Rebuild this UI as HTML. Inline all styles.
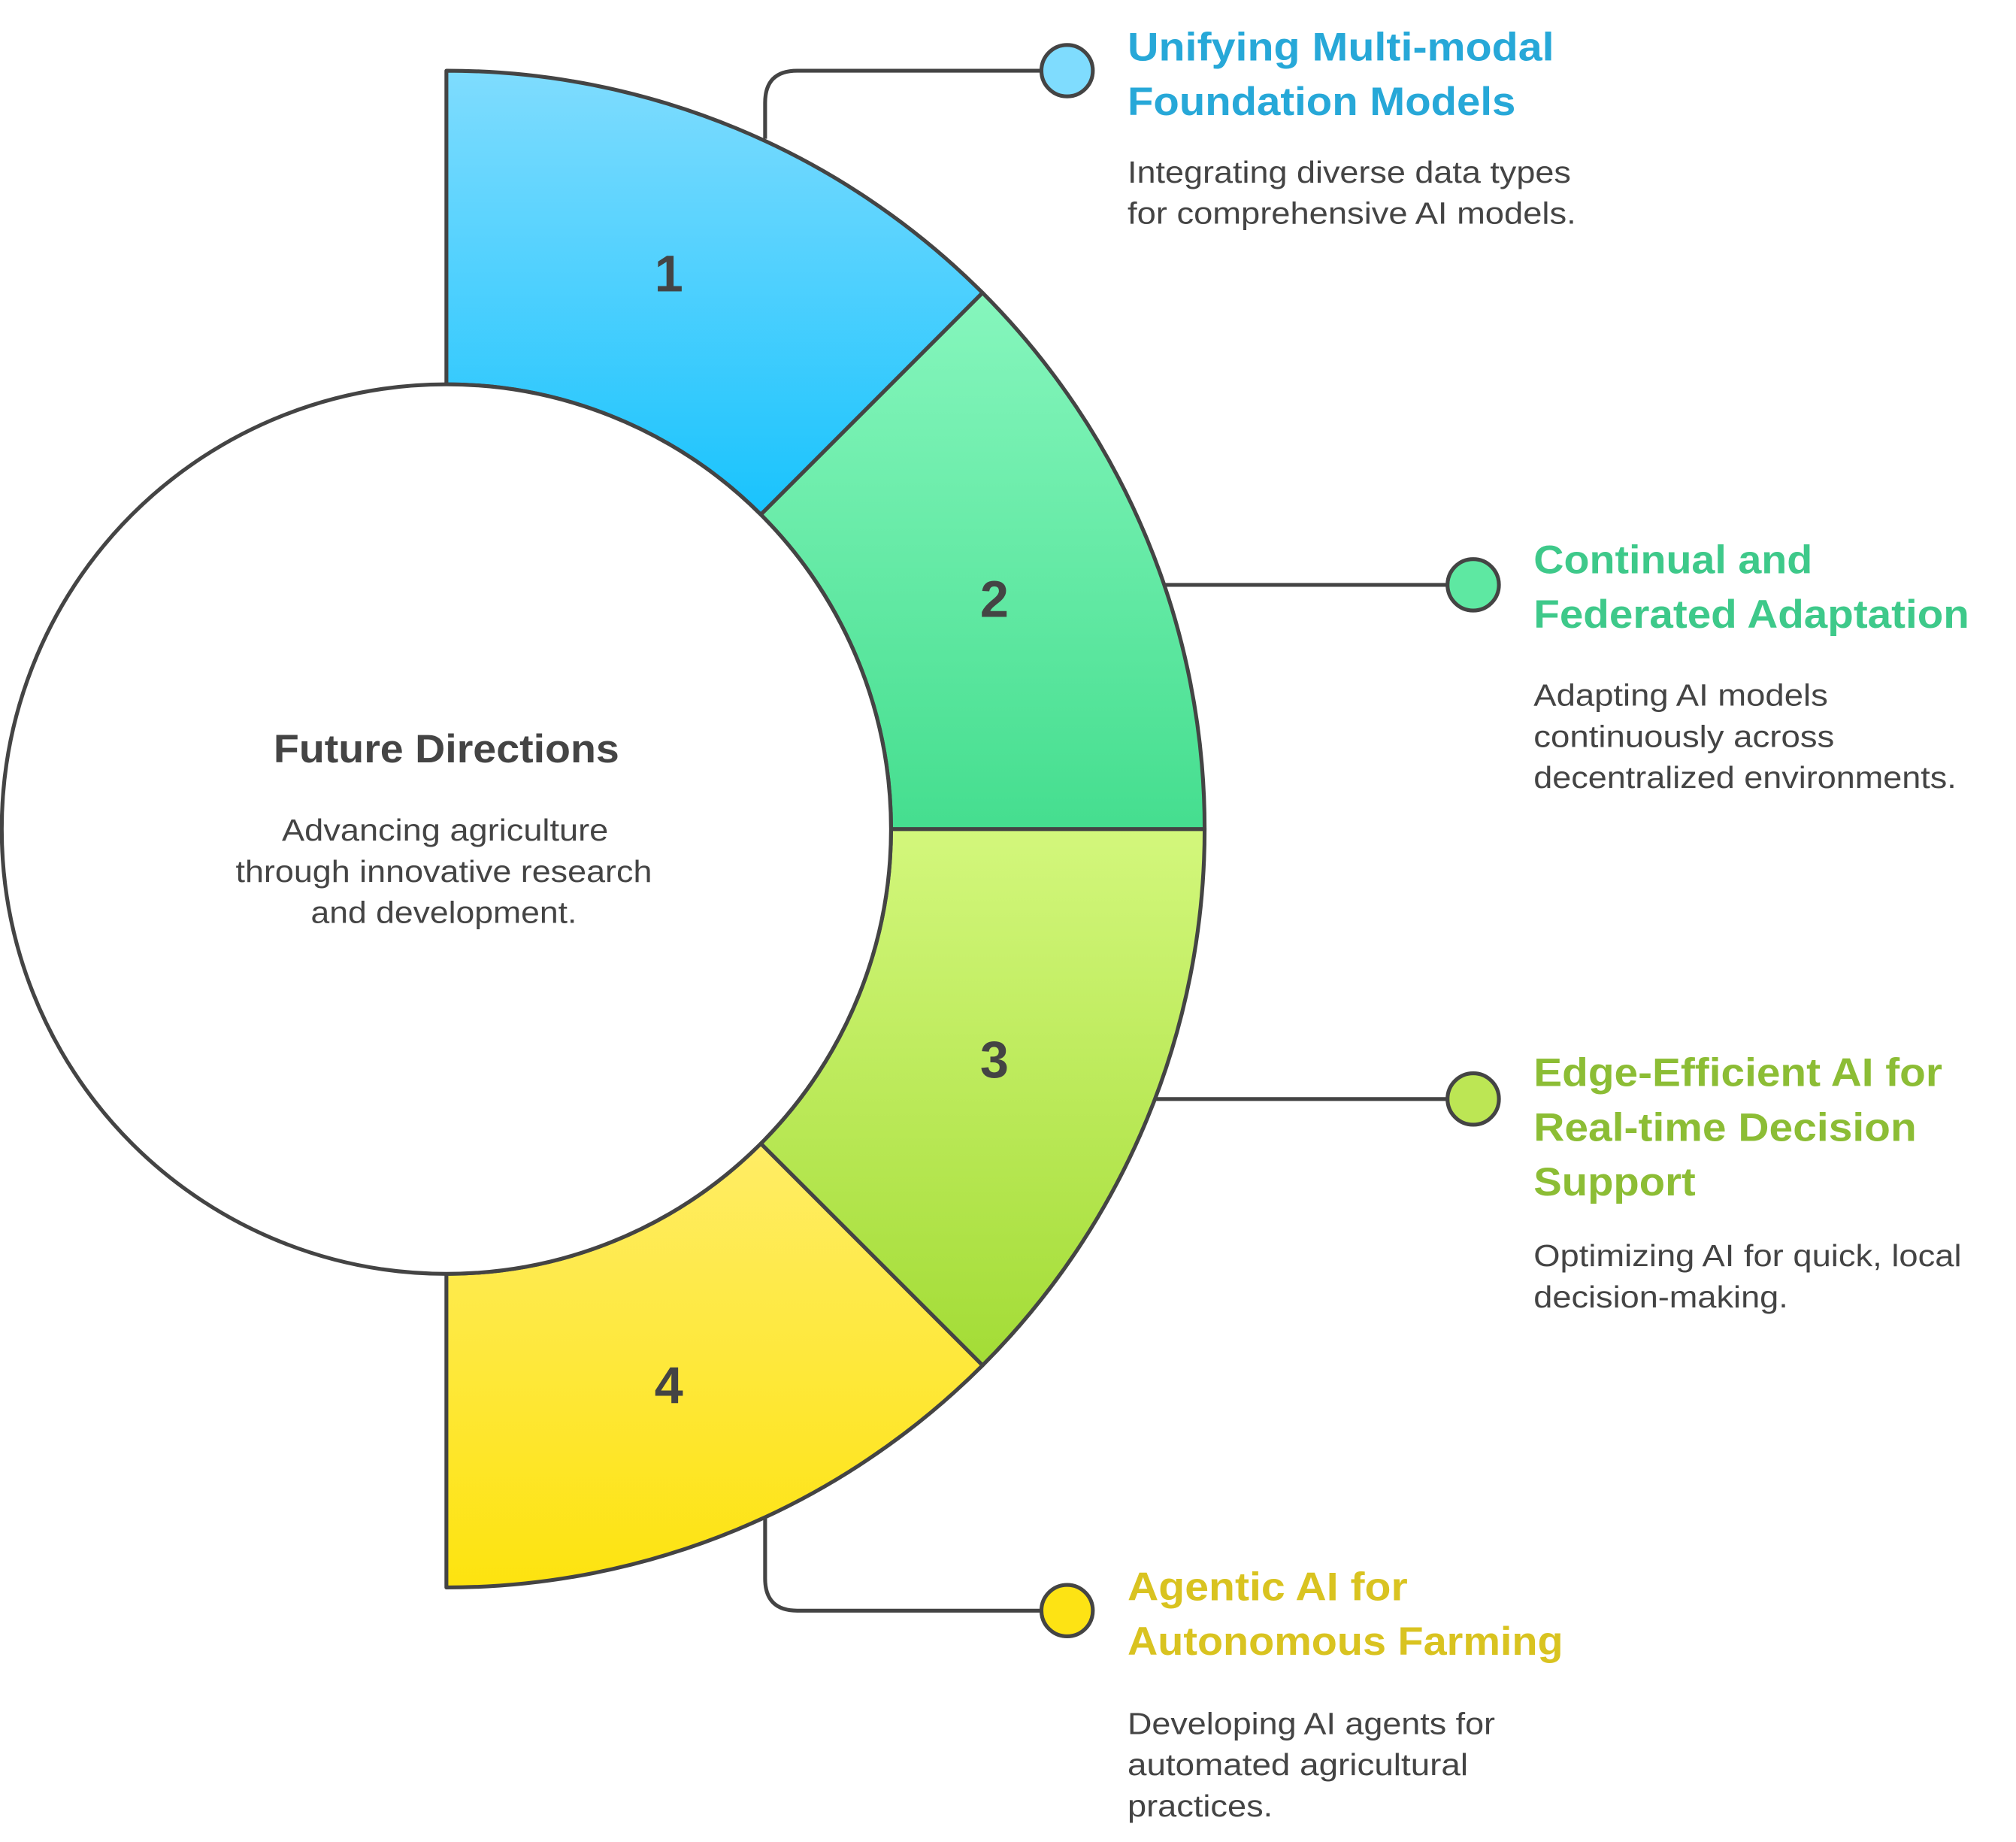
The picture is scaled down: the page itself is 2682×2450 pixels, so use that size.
<!DOCTYPE html>
<html><head><meta charset="utf-8">
<style>
html,body{margin:0;padding:0;background:#fff;}
svg{display:block;}
text{font-family:"Liberation Sans",Arial,sans-serif;}
</style></head>
<body>
<svg id="chart" width="2682" height="2450" viewBox="0 0 1568 1433" xmlns="http://www.w3.org/2000/svg">
<defs>
<linearGradient id="g1" x1="0" y1="0" x2="0" y2="1"><stop offset="0" stop-color="#7fdcfe"/><stop offset="1" stop-color="#19c3fd"/></linearGradient>
<linearGradient id="g2" x1="0" y1="0" x2="0" y2="1"><stop offset="0" stop-color="#86f6bd"/><stop offset="1" stop-color="#45de8f"/></linearGradient>
<linearGradient id="g3" x1="0" y1="0" x2="0" y2="1"><stop offset="0" stop-color="#d3f77c"/><stop offset="1" stop-color="#a3dc36"/></linearGradient>
<linearGradient id="g4" x1="0" y1="0" x2="0" y2="1"><stop offset="0" stop-color="#ffed66"/><stop offset="1" stop-color="#fde30f"/></linearGradient>
</defs>
<g id="segs"></g>
<circle cx="347" cy="645" r="346" fill="#fff" stroke="#444" stroke-width="3"/>
<g id="conn"></g>
<g fill="#444" text-anchor="middle">
<text x="347" y="593" font-size="31" font-weight="bold" textLength="269" lengthAdjust="spacingAndGlyphs">Future Directions</text>
<text x="346" y="654" font-size="24" textLength="254" lengthAdjust="spacingAndGlyphs">Advancing agriculture</text>
<text x="345" y="686" font-size="24" textLength="324" lengthAdjust="spacingAndGlyphs">through innovative research</text>
<text x="345" y="718" font-size="24" textLength="207" lengthAdjust="spacingAndGlyphs">and development.</text>
</g>
<g id="labels"></g>
</svg>
<script>
const NS="http://www.w3.org/2000/svg";
const cx=347, cy=645, rIn=346, rOut=590;
const segNumbers=["1","2","3","4"];
const segStartDeg=[-90,-45,0,45];
const segEndDeg=[-45,0,45,90];
const segFills=["url(#g1)","url(#g2)","url(#g3)","url(#g4)"];
const titleColors=["#27a8d8","#3ec98a","#8cbd35","#d9c320"];
const dotColors=["#7fdcfe","#5ee8a2","#bce654","#fde314"];
const titles=[["Unifying Multi-modal","Foundation Models"],["Continual and","Federated Adaptation"],["Edge-Efficient AI for","Real-time Decision","Support"],["Agentic AI for","Autonomous Farming"]];
const titleW=[[332,302],[217,339],[318,298,126],[218,339]];
const descs=[["Integrating diverse data types","for comprehensive AI models."],["Adapting AI models","continuously across","decentralized environments."],["Optimizing AI for quick, local","decision-making."],["Developing AI agents for","automated agricultural","practices."]];
const descW=[[345,349],[229,234,329],[333,198],[286,265,113]];
const textX=[877,1193,1193,877];
const titleY=[47,446,845,1245];
const descY=[142,549,985,1349];
const connPaths=["M595 108 V80 Q595 55 620 55 H810","M905 455 H1125","M898 855 H1125","M595 1180 V1228 Q595 1253 620 1253 H810"];
const dotPos=[[830,55],[1146,455],[1146,855],[830,1253]];
function pt(r,d){const a=d*Math.PI/180;return [cx+r*Math.cos(a),cy+r*Math.sin(a)];}
const segG=document.getElementById('segs'),connG=document.getElementById('conn'),labG=document.getElementById('labels');
segNumbers.forEach((n,i)=>{
  const a0=segStartDeg[i],a1=segEndDeg[i];
  const p1=pt(rOut,a0),p2=pt(rOut,a1),p3=pt(rIn,a1),p4=pt(rIn,a0);
  const p=document.createElementNS(NS,'path');
  p.setAttribute('d',`M${p1} A${rOut} ${rOut} 0 0 1 ${p2} L${p3} A${rIn} ${rIn} 0 0 0 ${p4} Z`);
  p.setAttribute('fill',segFills[i]);p.setAttribute('stroke','#444');p.setAttribute('stroke-width','3');p.setAttribute('stroke-linejoin','round');
  
  
  segG.appendChild(p);
  const m=pt((rIn+rOut)/2,(a0+a1)/2);
  const t=document.createElementNS(NS,'text');
  t.setAttribute('x',m[0]-6);t.setAttribute('y',m[1]+14);t.setAttribute('text-anchor','middle');
  t.setAttribute('font-size','40');t.setAttribute('font-weight','bold');t.setAttribute('fill','#444');
  t.textContent=n;
  
  
  segG.appendChild(t);
  const c=document.createElementNS(NS,'path');
  c.setAttribute('d',connPaths[i]);c.setAttribute('fill','none');c.setAttribute('stroke','#444');c.setAttribute('stroke-width','3');
  
  
  connG.appendChild(c);
  const d=document.createElementNS(NS,'circle');
  d.setAttribute('cx',dotPos[i][0]);d.setAttribute('cy',dotPos[i][1]);d.setAttribute('r','20');
  d.setAttribute('fill',dotColors[i]);d.setAttribute('stroke','#444');d.setAttribute('stroke-width','3');
  
  
  connG.appendChild(d);
  titles[i].forEach((line,j)=>{
    const t=document.createElementNS(NS,'text');
    t.setAttribute('x',textX[i]);t.setAttribute('y',titleY[i]+j*42.5);
    t.setAttribute('font-size','31');t.setAttribute('font-weight','bold');t.setAttribute('fill',titleColors[i]);
    t.setAttribute('textLength',titleW[i][j]);t.setAttribute('lengthAdjust','spacingAndGlyphs');
    t.textContent=line;
    
    
    labG.appendChild(t);
  });
  descs[i].forEach((line,j)=>{
    const t=document.createElementNS(NS,'text');
    t.setAttribute('x',textX[i]);t.setAttribute('y',descY[i]+j*32);
    t.setAttribute('font-size','24');t.setAttribute('fill','#444');
    t.setAttribute('textLength',descW[i][j]);t.setAttribute('lengthAdjust','spacingAndGlyphs');
    t.textContent=line;
    
    
    labG.appendChild(t);
  });
});
</script>
</body></html>
